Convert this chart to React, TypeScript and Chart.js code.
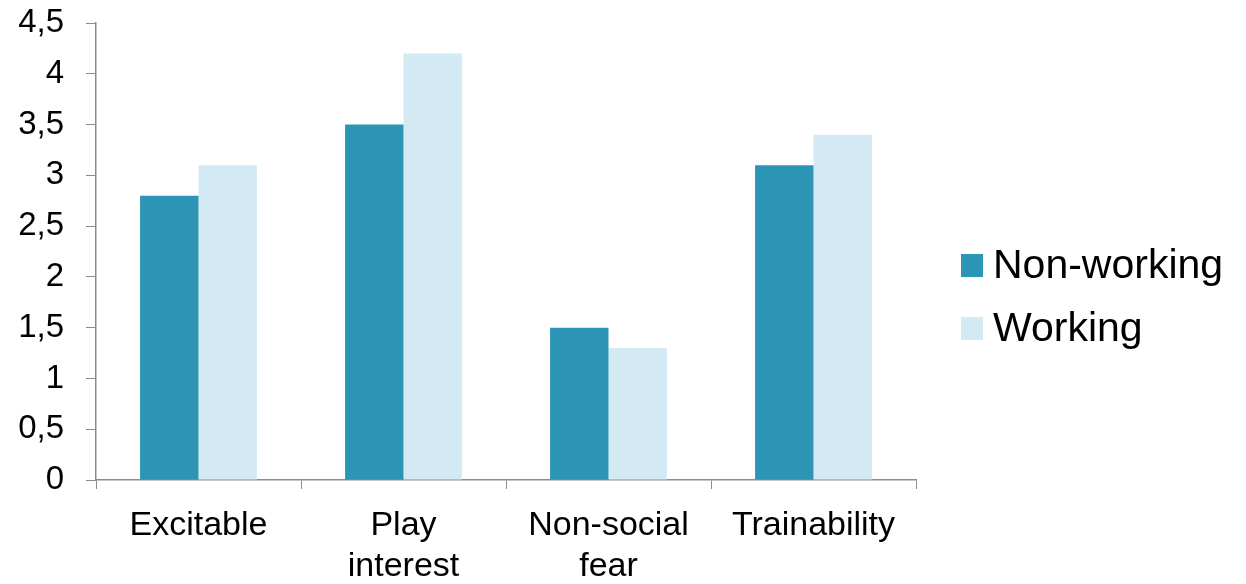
import React, { useEffect, useRef } from "react";
import { Chart, registerables } from "chart.js";

Chart.register(...registerables);

const categories: (string | string[])[] = [
  "Excitable",
  ["Play", "interest"],
  ["Non-social", "fear"],
  "Trainability",
];
const nonWorking = [2.8, 3.5, 1.5, 3.1];
const working = [3.1, 4.2, 1.3, 3.4];
const seriesNames = ["Non-working", "Working"];
const seriesColors = ["#2C95B6", "#D3EAF4"];

const FONT = "'Liberation Sans', Arial, sans-serif";
const AXIS = "#8c8c8c";

const legendPlugin = {
  id: "sideLegend",
  afterDraw(chart: any) {
    const ctx = chart.ctx as CanvasRenderingContext2D;
    const x0 = chart.chartArea.right + 45;
    const ys = [265, 328];
    ctx.save();
    chart.data.datasets.forEach((ds: any, i: number) => {
      const cy = ys[i];
      ctx.fillStyle = ds.backgroundColor;
      ctx.fillRect(x0, cy - 11, 22, 23);
      ctx.fillStyle = "#000";
      ctx.font = `41px ${FONT}`;
      ctx.textBaseline = "middle";
      ctx.textAlign = "left";
      ctx.fillText(ds.label, x0 + 32, cy + 2);
    });
    ctx.restore();
  },
};

export default function App() {
  const ref = useRef<HTMLCanvasElement | null>(null);
  useEffect(() => {
    document.body.style.margin = "0";
    const chart = new Chart(ref.current!, {
      type: "bar",
      data: {
        labels: categories,
        datasets: [
          { label: seriesNames[0], data: nonWorking, backgroundColor: seriesColors[0] },
          { label: seriesNames[1], data: working, backgroundColor: seriesColors[1] },
        ],
      },
      options: {
        animation: false,
        responsive: false,
        maintainAspectRatio: false,
        layout: { padding: { top: 23, right: 330, left: 0, bottom: 0 } },
        datasets: { bar: { categoryPercentage: 0.57, barPercentage: 1 } },
        plugins: { legend: { display: false }, tooltip: { enabled: false } },
        scales: {
          x: {
            grid: {
              display: true,
              drawOnChartArea: false,
              drawTicks: true,
              tickLength: 9,
              color: AXIS,
              offset: true,
            },
            border: { color: AXIS, width: 1.5 },
            afterFit(scale: any) {
              scale.height = 104;
              scale.paddingLeft = 0;
              scale.paddingRight = 0;
            },
            ticks: {
              color: "#000",
              font: { family: FONT, size: 34, lineHeight: 1.18 },
              padding: 17,
              maxRotation: 0,
              autoSkip: false,
            },
          },
          y: {
            min: 0,
            max: 4.5,
            grid: {
              display: true,
              drawOnChartArea: false,
              drawTicks: true,
              tickLength: 10,
              color: AXIS,
            },
            border: { color: AXIS, width: 1.5 },
            afterFit(scale: any) {
              scale.width = 96;
              scale.paddingTop = 0;
              scale.paddingBottom = 0;
            },
            ticks: {
              stepSize: 0.5,
              color: "#000",
              font: { family: FONT, size: 33 },
              padding: 22,
              callback: (v: any) => String(v).replace(".", ","),
            },
          },
        },
      },
      plugins: [legendPlugin],
    });
    return () => chart.destroy();
  }, []);
  return (
    <div style={{ width: 1246, height: 584 }}>
      <canvas ref={ref} width={1246} height={584} style={{ width: 1246, height: 584 }} />
    </div>
  );
}
